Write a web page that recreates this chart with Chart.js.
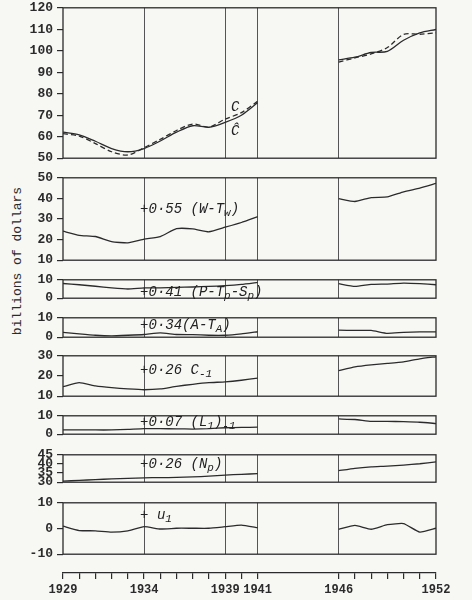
<!DOCTYPE html>
<html>
<head>
<meta charset="utf-8">
<script src="https://cdn.jsdelivr.net/npm/chart.js@4.4.0/dist/chart.umd.min.js"></script>
<style>
  body { margin: 0; background: #f7f7f4; }
  #wrap { position: relative; width: 472px; height: 600px; overflow: hidden; }
  #wrap canvas { position: absolute; left: 0; }
  #ylab {
    position: absolute; left: 17px; top: 261px; width: 200px; margin-left: -100px;
    text-align: center; transform: translateY(-50%) rotate(-90deg);
    font: 13px "Liberation Mono", monospace; color: #2b2b2b; white-space: nowrap;
  }
</style>
</head>
<body>
<div id="wrap"><div id="ylab">billions of dollars</div></div>
<script>
// years with data (war years 1942-45 left out)
var yearsPre  = [1929, 1930, 1931, 1932, 1933, 1934, 1935, 1936, 1937, 1938, 1939, 1940, 1941];
var yearsPost = [1946, 1947, 1948, 1949, 1950, 1951, 1952];
var gridYears = [1934, 1939, 1941, 1946];
var labelYears = [1929, 1934, 1939, 1941, 1946, 1952];

// consumption, solid and dashed
var cSolidPre   = [62.1, 60.9, 57.9, 54.5, 53.0, 54.5, 58.0, 62.1, 65.1, 64.4, 66.7, 70.0, 75.8];
var cSolidPost  = [95.8, 97.0, 99.2, 99.7, 104.9, 108.3, 109.9];
var cDashedPre  = [61.4, 60.3, 56.8, 53.0, 51.5, 54.9, 58.8, 62.9, 65.9, 64.5, 68.2, 71.2, 76.5];
var cDashedPost = [94.7, 96.7, 98.5, 101.5, 107.6, 107.7, 108.3];
// components
var wagePre   = [24.1, 22.1, 21.5, 19.0, 18.4, 20.2, 21.5, 25.3, 25.2, 23.8, 26.0, 28.3, 31.1];
var wagePost  = [39.9, 38.5, 40.4, 40.7, 43.2, 45.0, 47.3];
var profPre   = [8.0, 7.3, 6.5, 5.6, 5.0, 5.6, 5.6, 5.9, 6.1, 6.4, 6.8, 7.5, 8.6];
var profPost  = [7.9, 6.4, 7.5, 7.7, 8.2, 7.9, 7.3];
var farmPre   = [2.5, 1.7, 1.0, 0.7, 1.0, 1.4, 2.2, 1.4, 1.3, 1.0, 1.0, 1.7, 2.8];
var farmPost  = [3.6, 3.5, 3.5, 2.0, 2.5, 2.7, 2.7];
var cLagPre   = [14.7, 16.7, 15.1, 14.2, 13.6, 13.2, 13.6, 14.9, 15.9, 16.7, 17.1, 17.9, 19.0];
var cLagPost  = [22.7, 24.5, 25.5, 26.2, 27.0, 28.5, 29.5];
var liqPre    = [2.3, 2.3, 2.3, 2.3, 2.6, 3.0, 3.0, 2.9, 2.8, 3.0, 3.5, 3.7, 3.8];
var liqPost   = [8.3, 8.0, 7.0, 7.0, 6.8, 6.5, 5.8];
var popPre    = [30.6, 31.0, 31.4, 31.8, 32.1, 32.4, 32.5, 32.6, 32.9, 33.3, 33.9, 34.3, 34.7];
var popPost   = [36.3, 37.6, 38.4, 38.8, 39.4, 40.1, 41.1];
var resPre    = [0.9, -0.8, -0.9, -1.4, -0.9, 0.7, -0.2, 0.1, 0.1, 0.1, 0.7, 1.3, 0.3];
var resPost   = [-0.3, 1.2, -0.3, 1.5, 1.9, -1.4, 0.1];

var ink = '#2b2b2b';
var tickFont = { family: '"Liberation Mono", monospace', size: 13, weight: 'bold' };
var noteFamily = '"Liberation Mono", monospace';

function pts(pre, post) {
  var out = yearsPre.map(function (y, i) { return { x: y, y: pre[i] }; });
  out.push({ x: 1943.5, y: null });
  return out.concat(yearsPost.map(function (y, i) { return { x: y, y: post[i] }; }));
}

function line(pre, post, dashed, tension) {
  return {
    data: pts(pre, post), borderColor: ink, borderWidth: 1.3,
    borderDash: dashed ? [5, 3] : [], pointRadius: 0, tension: tension || 0.15, fill: false
  };
}

function drawParts(ctx, x, y, parts) {
  parts.forEach(function (p) {
    var sub = p[1];
    ctx.font = 'italic ' + (sub ? 11 : 14) + 'px ' + noteFamily;
    ctx.fillText(p[0], x, y + (sub ? 4 : 0));
    x += ctx.measureText(p[0]).width;
  });
}

function panel(top, bottom, min, max, ticks, sets, notes) {
  var pad = 10;
  var cv = document.createElement('canvas');
  cv.width = 472;
  cv.height = bottom - top + 2 * pad;
  cv.style.top = (top - pad) + 'px';
  document.getElementById('wrap').appendChild(cv);

  var boxAndNotes = {
    id: 'boxAndNotes',
    afterDraw: function (chart) {
      var ctx = chart.ctx, a = chart.chartArea;
      var xs = chart.scales.x, ys = chart.scales.y;
      ctx.save();
      ctx.strokeStyle = ink;
      ctx.lineWidth = 1.3;
      ctx.strokeRect(a.left, a.top, a.right - a.left, a.bottom - a.top);
      ctx.fillStyle = '#222';
      ctx.textBaseline = 'middle';
      (notes || []).forEach(function (n) {
        drawParts(ctx, xs.getPixelForValue(n.year) - 4, ys.getPixelForValue(n.value), n.parts);
      });
      ctx.restore();
    }
  };

  return new Chart(cv, {
    type: 'line',
    data: { datasets: sets },
    options: {
      responsive: false,
      animation: false,
      layout: { padding: { top: pad, bottom: pad, left: 0, right: 36 } },
      plugins: { legend: { display: false }, tooltip: { enabled: false } },
      scales: {
        x: {
          type: 'linear', min: 1929, max: 1952,
          afterBuildTicks: function (s) { s.ticks = gridYears.map(function (v) { return { value: v }; }); },
          afterFit: function (s) { s.height = 0; },
          ticks: { display: false },
          grid: { drawTicks: false, color: '#555', lineWidth: 1 },
          border: { display: false }
        },
        y: {
          min: min, max: max,
          afterBuildTicks: function (s) { s.ticks = ticks.map(function (v) { return { value: v }; }); },
          afterFit: function (s) { s.width = 63; },
          ticks: { font: tickFont, color: ink, padding: 4, autoSkip: false },
          grid: { drawOnChartArea: false, tickLength: 6, color: ink, lineWidth: 1.2 },
          border: { display: false }
        }
      }
    },
    plugins: [boxAndNotes]
  });
}

panel(6, 160, 50, 120, [50, 60, 70, 80, 90, 100, 110, 120],
  [line(cSolidPre, cSolidPost, false, 0.3), line(cDashedPre, cDashedPost, true, 0.3)],
  [{ year: 1939.6, value: 73.8, parts: [['C', 0]] }, { year: 1939.6, value: 62.5, parts: [['\u0108', 0]] }]);

panel(176, 262, 10, 50, [10, 20, 30, 40, 50], [line(wagePre, wagePost)],
  [{ year: 1934, value: 34.7, parts: [['+0\u00b755 (W-T', 0], ['w', 1], [')', 0]] }]);

panel(278, 300, 0, 10, [0, 10], [line(profPre, profPost)],
  [{ year: 1934, value: 3.2, parts: [['+0\u00b741 (P-T', 0], ['p', 1], ['-S', 0], ['p', 1], [')', 0]] }]);

panel(316, 339, 0, 10, [0, 10], [line(farmPre, farmPost)],
  [{ year: 1934, value: 6.1, parts: [['+0\u00b734(A-T', 0], ['A', 1], [')', 0]] }]);

panel(354, 398, 10, 30, [10, 20, 30], [line(cLagPre, cLagPost)],
  [{ year: 1934, value: 23.0, parts: [['+0\u00b726 C', 0], ['-1', 1]] }]);

panel(414, 436, 0, 10, [0, 10], [line(liqPre, liqPost)],
  [{ year: 1934, value: 6.5, parts: [['+0\u00b707 (L', 0], ['1', 1], [')', 0], ['-1', 1]] }]);

panel(453, 484, 30, 45, [30, 35, 40, 45], [line(popPre, popPost)],
  [{ year: 1934, value: 39.7, parts: [['+0\u00b726 (N', 0], ['p', 1], [')', 0]] }]);

panel(501, 556, -10, 10, [-10, 0, 10], [line(resPre, resPost)],
  [{ year: 1934, value: 5.3, parts: [['+ u', 0], ['1', 1]] }]);

// separate year axis at the bottom
(function () {
  var cv = document.createElement('canvas');
  cv.width = 472; cv.height = 37;
  cv.style.top = '563px';
  document.getElementById('wrap').appendChild(cv);
  var allYears = yearsPre.concat(yearsPost);
  new Chart(cv, {
    type: 'line',
    data: { datasets: [] },
    options: {
      responsive: false,
      animation: false,
      layout: { padding: { top: 0, bottom: 0, left: 63, right: 36 } },
      plugins: { legend: { display: false }, tooltip: { enabled: false } },
      scales: {
        x: {
          type: 'linear', min: 1929, max: 1952,
          afterBuildTicks: function (s) { s.ticks = allYears.map(function (v) { return { value: v }; }); },
          afterFit: function (s) { s.height = 27; },
          ticks: {
            autoSkip: false, maxRotation: 0, padding: 4, color: ink,
            font: { family: '"Liberation Mono", monospace', size: 12, weight: 'bold' },
            callback: function (v) { return labelYears.indexOf(v) >= 0 ? String(v) : ''; }
          },
          grid: { drawOnChartArea: false, tickLength: 6, color: ink, lineWidth: 1.2 },
          border: { display: true, color: ink, width: 1.3 }
        },
        y: { display: false, min: 0, max: 1 }
      }
    }
  });
})();
</script>
</body>
</html>
